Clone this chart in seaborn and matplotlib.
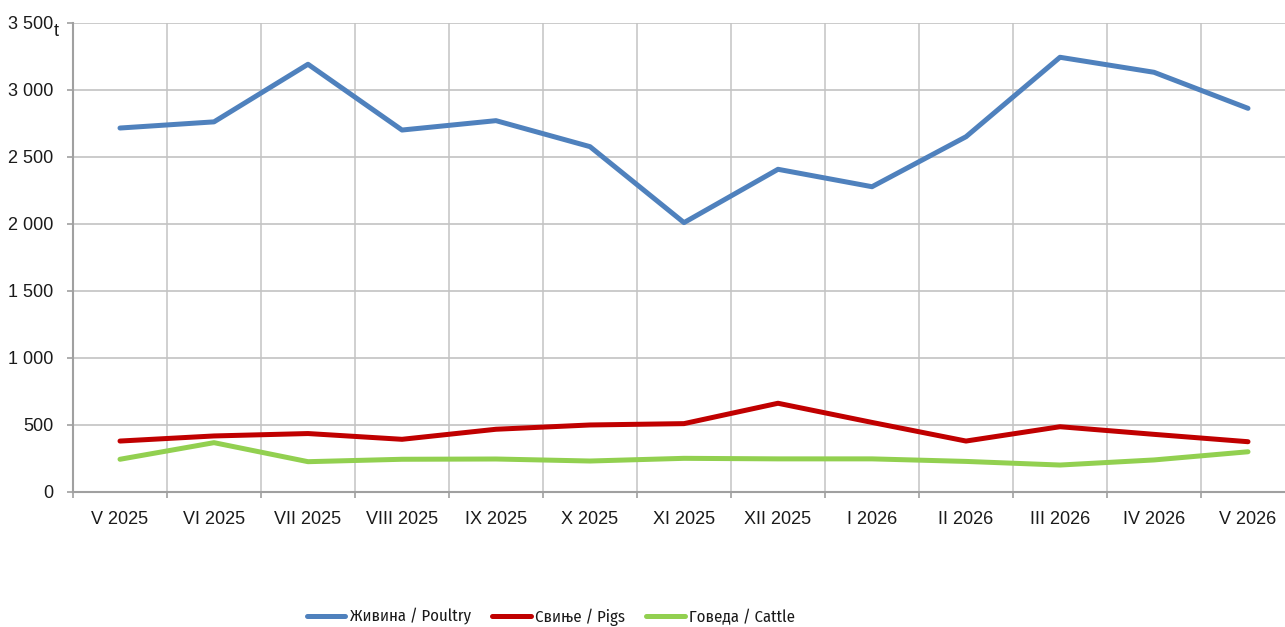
import matplotlib
matplotlib.use("Agg")
import matplotlib.pyplot as plt
from matplotlib import font_manager
from matplotlib.ft2font import FT2Font
from matplotlib.ticker import FixedLocator, FuncFormatter
import seaborn as sns
import pandas as pd

months = ["V 2025", "VI 2025", "VII 2025", "VIII 2025", "IX 2025", "X 2025", "XI 2025",
          "XII 2025", "I 2026", "II 2026", "III 2026", "IV 2026", "V 2026"]
poultry = [2714, 2760, 3190, 2699, 2769, 2575, 2008, 2406, 2276, 2649, 3242, 3130, 2861]
pigs = [378, 416, 434, 391, 466, 498, 508, 660, 517, 378, 485, 428, 373]
cattle = [242, 366, 224, 242, 244, 229, 249, 245, 245, 226, 199, 237, 298]
series_names = ["Живина / Poultry", "Свиње / Pigs", "Говеда / Cattle"]
colors = ["#4F81BD", "#C00000", "#92D050"]

sns.set_theme(style="white")
plt.rcParams["font.family"] = ["Liberation Sans", "DejaVu Sans"]

# look for a condensed face with Cyrillic glyphs for the legend
narrow = None
for f in font_manager.fontManager.ttflist:
    n = f.name.lower()
    if ("narrow" in n or "condensed" in n) and f.style == "normal" and f.weight in (400, "normal", "regular"):
        try:
            cmap = FT2Font(f.fname).get_charmap()
            if ord("Ж") in cmap and ord("ј") in cmap:
                narrow = f.name
                break
        except Exception:
            pass
if narrow:
    leg_prop = {"family": [narrow, "DejaVu Sans"], "size": 12}
else:
    leg_prop = {"family": ["Liberation Sans", "DejaVu Sans"], "size": 10.5}

df = pd.DataFrame({"month": months * 3,
                   "x": list(range(len(months))) * 3,
                   "value": poultry + pigs + cattle,
                   "series": sum([[s] * len(months) for s in series_names], [])})

fig = plt.figure(figsize=(12.85, 6.27), dpi=100)
ax = fig.add_axes([73 / 1285, 1 - 491.7 / 627, 1222 / 1285, 469 / 627])

sns.lineplot(data=df, x="x", y="value", hue="series", palette=colors,
             linewidth=3.6, ax=ax, legend=True, solid_capstyle="round")

ax.set_xlim(-0.5, len(months) - 0.5)
ax.set_ylim(0, 3500)
ax.set_yticks(range(0, 3501, 500))
ax.yaxis.set_major_formatter(FuncFormatter(lambda v, p: f"{int(v):,}".replace(",", " ")))
ax.set_xticks(range(len(months)))
ax.set_xticklabels(months)
ax.xaxis.set_minor_locator(FixedLocator([i - 0.5 for i in range(len(months) + 1)]))

ax.grid(False)
for v in range(500, 3501, 500):
    ax.axhline(v, color="#bdbdbd", lw=1.1, zorder=0)
for i in range(len(months)):
    ax.axvline(i + 0.5, color="#c4c4c4", lw=1.1, zorder=0)

for s in ["top", "right"]:
    ax.spines[s].set_visible(False)
for s in ["left", "bottom"]:
    ax.spines[s].set_color("#a0a0a0")
    ax.spines[s].set_linewidth(1.5)

ax.tick_params(axis="y", which="major", length=4, width=1.2, color="#a0a0a0",
               pad=10, labelsize=13, labelcolor="#1a1a1a", left=True)
ax.tick_params(axis="x", which="major", length=0, pad=14, labelsize=13, labelcolor="#1a1a1a")
ax.tick_params(axis="x", which="minor", length=4, width=1.2, color="#a0a0a0", bottom=True)

ax.set_xlabel("")
ax.set_ylabel("")

fig.text(54 / 1285, 1 - 32 / 627, "t", fontsize=13, color="#1a1a1a", va="center", ha="left")

handles, labels = ax.get_legend_handles_labels()
ax.legend_.remove()
leg = fig.legend(handles, labels, loc="center", bbox_to_anchor=(551 / 1285, 1 - 617 / 627),
                 ncol=3, frameon=False, prop=leg_prop, handlelength=2.3, handletextpad=0.25,
                 columnspacing=1.3)
for line in leg.get_lines():
    line.set_linewidth(3.6)
for t in leg.get_texts():
    t.set_color("#1a1a1a")

fig.savefig("out.png", dpi=100)
